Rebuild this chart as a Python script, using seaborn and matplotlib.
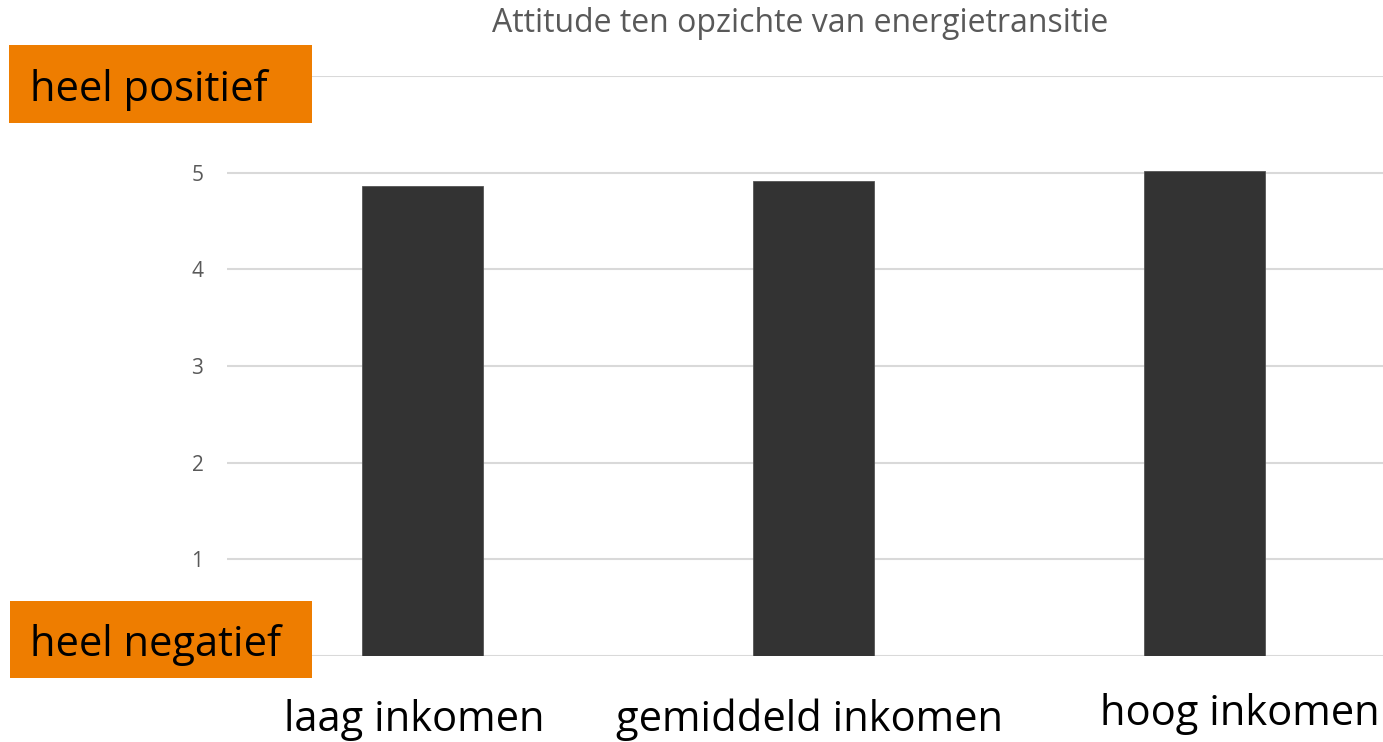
import matplotlib
matplotlib.use('Agg')
import matplotlib.pyplot as plt
import matplotlib.transforms as mtransforms
from matplotlib.patches import Rectangle
import seaborn as sns
import pandas as pd

# data
categories = ['laag inkomen', 'gemiddeld inkomen', 'hoog inkomen']
attitude = [4.86, 4.91, 5.02]
y_ticks = [0, 1, 2, 3, 4, 5, 6]
y_ticklabels = ['', '1', '2', '3', '4', '5', '']  # 0 en 6 zitten onder de oranje labels
title = 'Attitude ten opzichte van energietransitie'
top_label = 'heel positief'
bottom_label = 'heel negatief'

sns.set_theme(style='white')
plt.rcParams['font.family'] = ['Open Sans', 'DejaVu Sans']

df = pd.DataFrame({'groep': categories, 'score': attitude})

W, H = 1383, 742
fig = plt.figure(figsize=(W / 100, H / 100), dpi=100)
# assen in pixels: x 227..1400, y 76..656 (van boven)
ax = fig.add_axes([227 / W, (H - 656) / H, (1400 - 227) / W, (656 - 76) / H])

sns.barplot(data=df, x='groep', y='score', color='#333333', width=0.31,
            saturation=1, edgecolor='#555555', linewidth=0.6, ax=ax, zorder=3)

ax.set_xlim(-0.5, 2.5)
ax.set_ylim(0, 6)
ax.set_yticks(y_ticks)
ax.set_yticklabels(y_ticklabels)
ax.yaxis.grid(True, color='#d9d9d9', linewidth=1.5, zorder=0)
ax.set_axisbelow(True)
sns.despine(ax=ax, left=True, bottom=True)
ax.set_xlabel('')
ax.set_ylabel('')
ax.tick_params(axis='y', length=0, pad=17, labelsize=15, labelcolor='#595959')
ax.set_xticks(range(len(categories)))
ax.set_xticklabels([])
ax.tick_params(axis='x', length=0)

# categorie labels onder de balken (baseline in pixels van boven)
dx = [-0.02, -0.01, 0.09]
baseline = [731, 731, 725]
tr = mtransforms.blended_transform_factory(ax.transData, fig.transFigure)
for i, name in enumerate(categories):
    ax.text(i + dx[i], 1 - baseline[i] / H, name, transform=tr, ha='center',
            va='baseline', fontsize=30, color='black', clip_on=False)

fig.text(800 / W, 1 - 23 / H, title, ha='center', va='center',
         fontsize=23, color='#595959')

# oranje labels
for (x0, y0, x1, y1), txt in [((9, 45, 312, 123), top_label),
                               ((10, 601, 312, 678), bottom_label)]:
    fig.patches.append(Rectangle((x0 / W, 1 - y1 / H), (x1 - x0) / W, (y1 - y0) / H,
                                 transform=fig.transFigure, facecolor='#ee7d00',
                                 edgecolor='none', zorder=5))
    fig.text(30 / W, 1 - ((y0 + y1) / 2 + 17) / H, txt, ha='left', va='baseline',
             fontsize=30, color='black', zorder=6)

fig.savefig('out.png', dpi=100)
